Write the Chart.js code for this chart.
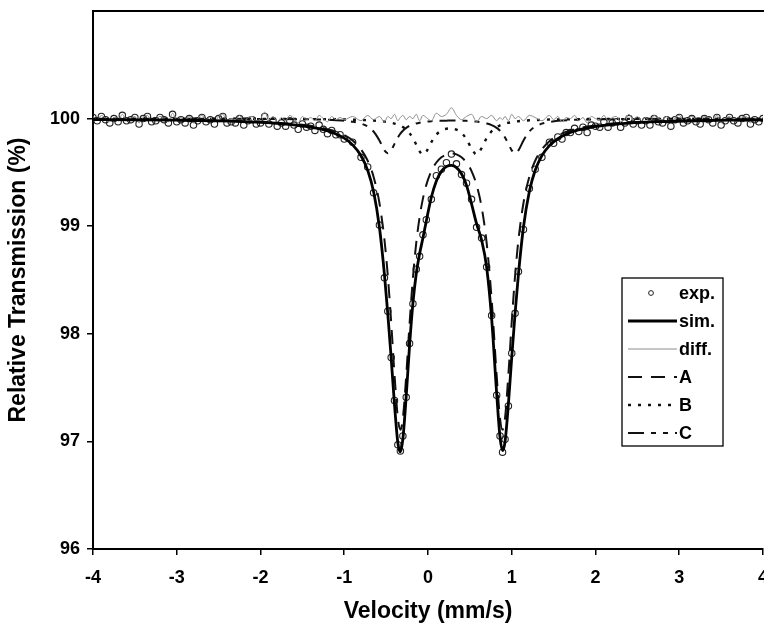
<!DOCTYPE html>
<html>
<head>
<meta charset="utf-8">
<title>Mossbauer spectrum</title>
<script src="https://cdn.jsdelivr.net/npm/chart.js@4.4.1/dist/chart.umd.min.js"></script>
<style>
    html, body { margin: 0; padding: 0; background: #fff; overflow: hidden; }
    #wrap { width: 780px; height: 626px; }
</style>
</head>
<body>
<div id="wrap"><canvas id="mossChart"></canvas></div>
<script>
// ── Data ────────────────────────────────────────────────────────
const xTickValues = [-4, -3, -2, -1, 0, 1, 2, 3, 4];
const yTickValues = [96, 97, 98, 99, 100];

// fitted curves: velocity grid (mm/s)
const velocity = [-4, -3.5, -3, -2.5, -2, -1.75, -1.5, -1.3, -1.15, -1.0, -0.9, -0.8, -0.72, -0.65, -0.58, -0.52,
    -0.48, -0.44, -0.40, -0.36, -0.33, -0.30, -0.26, -0.22, -0.18, -0.14, -0.10, -0.06, -0.02, 0.04, 0.10, 0.16,
    0.22, 0.28, 0.34, 0.40, 0.46, 0.52, 0.58, 0.64, 0.70, 0.76, 0.82, 0.86, 0.89, 0.92, 0.96, 1.00, 1.04, 1.08,
    1.14, 1.21, 1.28, 1.36, 1.45, 1.55, 1.7, 1.9, 2.1, 2.4, 2.8, 3.2, 3.6, 4];

const simValues = [99.991, 99.989, 99.985, 99.978, 99.964, 99.952, 99.933, 99.906, 99.873, 99.818, 99.756, 99.655,
    99.519, 99.322, 98.990, 98.551, 98.186, 97.778, 97.341, 96.987, 96.901, 97.023, 97.424, 97.893, 98.284, 98.560,
    98.744, 98.893, 99.049, 99.269, 99.421, 99.510, 99.554, 99.565, 99.545, 99.487, 99.379, 99.208, 99.023, 98.870,
    98.620, 98.142, 97.447, 97.039, 96.914, 96.997, 97.348, 97.784, 98.191, 98.555, 98.993, 99.323, 99.520, 99.656,
    99.749, 99.813, 99.871, 99.913, 99.937, 99.958, 99.972, 99.980, 99.985, 99.988];

const compA = [99.993, 99.990, 99.987, 99.981, 99.970, 99.959, 99.943, 99.920, 99.892, 99.846, 99.796, 99.714,
    99.608, 99.460, 99.216, 98.874, 98.541, 98.111, 97.622, 97.219, 97.108, 97.215, 97.612, 98.096, 98.520, 98.847,
    99.086, 99.259, 99.384, 99.512, 99.592, 99.640, 99.667, 99.675, 99.667, 99.640, 99.592, 99.512, 99.384, 99.179,
    98.847, 98.320, 97.612, 97.215, 97.108, 97.219, 97.622, 98.111, 98.541, 98.874, 99.216, 99.460, 99.608, 99.714,
    99.789, 99.842, 99.890, 99.926, 99.946, 99.964, 99.976, 99.983, 99.987, 99.990];

const compB = [99.999, 99.999, 99.999, 99.999, 99.998, 99.997, 99.996, 99.995, 99.994, 99.992, 99.990, 99.988,
    99.985, 99.982, 99.977, 99.972, 99.967, 99.961, 99.954, 99.943, 99.933, 99.921, 99.897, 99.865, 99.818, 99.758,
    99.696, 99.667, 99.693, 99.781, 99.851, 99.889, 99.906, 99.909, 99.897, 99.867, 99.808, 99.721, 99.667, 99.726,
    99.818, 99.882, 99.921, 99.937, 99.946, 99.954, 99.961, 99.967, 99.972, 99.976, 99.980, 99.984, 99.986, 99.989,
    99.991, 99.992, 99.994, 99.996, 99.997, 99.997, 99.998, 99.999, 99.999, 99.999];

const compC = [99.999, 99.999, 99.999, 99.998, 99.997, 99.996, 99.994, 99.991, 99.987, 99.980, 99.971, 99.953,
    99.926, 99.880, 99.797, 99.705, 99.678, 99.705, 99.765, 99.824, 99.860, 99.887, 99.914, 99.933, 99.946, 99.955,
    99.962, 99.968, 99.972, 99.976, 99.979, 99.980, 99.981, 99.982, 99.981, 99.980, 99.979, 99.976, 99.972, 99.965,
    99.955, 99.940, 99.914, 99.887, 99.860, 99.824, 99.765, 99.705, 99.678, 99.705, 99.797, 99.880, 99.926, 99.953,
    99.969, 99.979, 99.987, 99.992, 99.994, 99.996, 99.998, 99.998, 99.999, 99.999];

// measured spectrum and residual
const expVelocity = [-4.00, -3.95, -3.90, -3.85, -3.80, -3.75, -3.70, -3.65, -3.60, -3.55, -3.50, -3.45, -3.40,
    -3.35, -3.30, -3.25, -3.20, -3.15, -3.10, -3.05, -3.00, -2.95, -2.90, -2.85, -2.80, -2.75, -2.70, -2.65, -2.60,
    -2.55, -2.50, -2.45, -2.40, -2.35, -2.30, -2.25, -2.20, -2.15, -2.10, -2.05, -2.00, -1.95, -1.90, -1.85, -1.80,
    -1.75, -1.70, -1.65, -1.60, -1.55, -1.50, -1.45, -1.40, -1.35, -1.30, -1.25, -1.20, -1.15, -1.10, -1.05,
    -1.0, -0.9, -0.8, -0.72, -0.65, -0.58, -0.52, -0.48, -0.44, -0.40, -0.36, -0.33, -0.30, -0.26, -0.22, -0.18,
    -0.14, -0.10, -0.06, -0.02, 0.04, 0.10, 0.16, 0.22, 0.28, 0.34, 0.40, 0.46, 0.52, 0.58, 0.64, 0.70, 0.76, 0.82,
    0.86, 0.89, 0.92, 0.96, 1.00, 1.04, 1.08, 1.14, 1.21, 1.28, 1.36, 1.45,
    1.50, 1.55, 1.60, 1.65, 1.70, 1.75, 1.80, 1.85, 1.90, 1.95, 2.00, 2.05, 2.10, 2.15, 2.20, 2.25, 2.30, 2.35,
    2.40, 2.45, 2.50, 2.55, 2.60, 2.65, 2.70, 2.75, 2.80, 2.85, 2.90, 2.95, 3.00, 3.05, 3.10, 3.15, 3.20, 3.25,
    3.30, 3.35, 3.40, 3.45, 3.50, 3.55, 3.60, 3.65, 3.70, 3.75, 3.80, 3.85, 3.90, 3.95, 4.00];

const expValues = [100.01, 99.98, 100.02, 99.99, 99.96, 100.00, 99.97, 100.03, 99.98, 99.99,
    100.01, 99.95, 100.00, 100.02, 99.97, 99.98, 100.01, 99.99, 99.96, 100.04,
    99.97, 99.99, 99.96, 100.00, 99.94, 99.98, 100.01, 99.97, 99.99, 99.95,
    100.00, 100.02, 99.96, 99.97, 99.96, 100.00, 99.94, 99.98, 99.99, 99.95,
    99.96, 100.02, 99.95, 99.98, 99.93, 99.96, 99.93, 99.98, 99.94, 99.90,
    99.95, 99.92, 99.93, 99.89, 99.94, 99.90, 99.86, 99.89, 99.85, 99.85,
    99.81, 99.78, 99.64, 99.55, 99.31, 99.01, 98.52, 98.21, 97.78, 97.38,
    96.97, 96.91, 97.05, 97.41, 97.91, 98.28, 98.60, 98.72, 98.92, 99.06,
    99.25, 99.47, 99.53, 99.59, 99.67, 99.58, 99.48, 99.40, 99.25, 98.99,
    98.89, 98.62, 98.17, 97.43, 97.05, 96.90, 97.02, 97.33, 97.82, 98.19,
    98.58, 98.97, 99.35, 99.53, 99.64, 99.78,
    99.77, 99.83, 99.81, 99.87, 99.87, 99.91, 99.88, 99.92, 99.87, 99.94,
    99.93, 99.92, 99.97, 99.92, 99.96, 99.97, 99.92, 99.96, 100.00, 99.95,
    99.98, 99.94, 99.98, 99.94, 100.00, 99.97, 99.96, 99.99, 99.93, 99.99,
    100.01, 99.96, 99.98, 100.00, 99.97, 99.95, 100.00, 99.99, 99.96, 100.01,
    99.94, 99.98, 100.01, 99.98, 99.96, 100.00, 100.01, 99.95, 99.99, 99.97, 100.00];

const diffValues = [100.02, 99.99, 100.03, 100.00, 99.97, 100.01, 99.98, 100.04, 99.99, 100.00,
    100.02, 99.96, 100.01, 100.03, 99.98, 99.99, 100.02, 100.00, 99.97, 100.05,
    99.99, 100.01, 99.98, 100.02, 99.96, 100.00, 100.03, 99.99, 100.01, 99.97,
    100.02, 100.04, 99.98, 100.00, 99.99, 100.03, 99.97, 100.01, 100.02, 99.98,
    100.00, 100.06, 99.99, 100.02, 99.97, 100.01, 99.98, 100.03, 100.00, 99.96,
    100.02, 99.99, 100.01, 99.98, 100.03, 100.00, 99.97, 100.02, 99.99, 100.01,
    99.99, 100.02, 99.98, 100.03, 99.99, 100.02, 99.97, 100.02, 100.00, 100.04,
    99.98, 100.01, 100.03, 99.99, 100.02, 100.00, 100.04, 99.98, 100.03, 100.01,
    99.98, 100.05, 100.02, 100.04, 100.10, 100.03, 99.99, 100.02, 100.04, 99.97,
    100.02, 100.00, 100.03, 99.98, 100.01, 99.99, 100.02, 99.98, 100.04, 100.00,
    100.02, 99.98, 100.03, 100.01, 99.98, 100.03,
    99.99, 100.02, 99.97, 100.01, 100.00, 100.03, 99.98, 100.01, 99.96, 100.02,
    100.00, 99.99, 100.03, 99.98, 100.01, 100.02, 99.97, 100.00, 100.04, 99.99,
    100.02, 99.98, 100.01, 99.97, 100.03, 100.00, 99.99, 100.02, 99.96, 100.01,
    100.03, 99.98, 100.00, 100.02, 99.99, 99.97, 100.02, 100.01, 99.98, 100.03,
    99.96, 100.00, 100.02, 99.99, 99.97, 100.01, 100.02, 99.96, 100.00, 99.98, 100.01];

// ── Helpers ─────────────────────────────────────────────────────
const FONT = "'Liberation Sans', Arial, Helvetica, sans-serif";
const pts = (xs, ys) => xs.map((x, i) => ({ x: x, y: ys[i] }));

const lineSet = (label, xs, ys, color, width, dash) => ({
    label: label,
    data: pts(xs, ys),
    borderColor: color,
    borderWidth: width,
    borderDash: dash,
    pointRadius: 0,
    fill: false,
    cubicInterpolationMode: 'monotone'
});

// ── Legend box drawn inside the plot ────────────────────────────
const boxLegend = {
    id: 'boxLegend',
    afterDraw(chart) {
        const ctx = chart.ctx;
        const area = chart.chartArea;
        const left = area.left + 529, top = area.top + 267, w = 101, h = 168;
        ctx.save();
        ctx.fillStyle = '#fff';
        ctx.fillRect(left, top, w, h);
        ctx.strokeStyle = '#000';
        ctx.lineWidth = 1.3;
        ctx.strokeRect(left, top, w, h);

        ctx.font = "bold 18px " + FONT;
        ctx.textBaseline = 'middle';
        ctx.fillStyle = '#000';
        const order = ['exp.', 'sim.', 'diff.', 'A', 'B', 'C'];
        order.forEach((name, i) => {
            const ds = chart.data.datasets.find(d => d.label === name);
            const y = top + 15 + i * 28;
            if (ds.showLine === false) {
                ctx.beginPath();
                ctx.lineWidth = 1;
                ctx.strokeStyle = ds.borderColor;
                ctx.arc(left + 29, y, 2.4, 0, Math.PI * 2);
                ctx.stroke();
            } else {
                ctx.beginPath();
                ctx.lineWidth = ds.borderWidth;
                ctx.strokeStyle = ds.borderColor;
                ctx.setLineDash(ds.borderDash || []);
                ctx.moveTo(left + 6, y);
                ctx.lineTo(left + 55, y);
                ctx.stroke();
                ctx.setLineDash([]);
            }
            ctx.fillText(name, left + 57, y + 1);
        });
        ctx.restore();
    }
};

// top frame line of the plot
const topFrame = {
    id: 'topFrame',
    afterDraw(chart) {
        const ctx = chart.ctx;
        const area = chart.chartArea;
        ctx.save();
        ctx.strokeStyle = '#000';
        ctx.lineWidth = 2;
        ctx.beginPath();
        ctx.moveTo(area.left - 1, area.top);
        ctx.lineTo(area.right + 2, area.top);
        ctx.stroke();
        ctx.restore();
    }
};

// ── Chart ───────────────────────────────────────────────────────
new Chart(document.getElementById('mossChart'), {
    type: 'line',
    data: {
        datasets: [
            lineSet('sim.', velocity, simValues, '#000', 2.8, []),
            lineSet('diff.', expVelocity, diffValues, '#8c8c8c', 1, []),
            lineSet('A', velocity, compA, '#111', 2, [14, 9]),
            lineSet('B', velocity, compB, '#111', 2.4, [3, 7]),
            lineSet('C', velocity, compC, '#111', 2, [16, 7, 5, 7, 5, 7]),
            {
                label: 'exp.',
                data: pts(expVelocity, expValues),
                showLine: false,
                pointStyle: 'circle',
                pointRadius: 3.2,
                pointBorderWidth: 1.1,
                borderColor: '#222',
                pointBorderColor: '#222',
                pointBackgroundColor: 'rgba(255,255,255,0)',
                backgroundColor: 'rgba(255,255,255,0)'
            }
        ]
    },
    options: {
        responsive: true, maintainAspectRatio: false, animation: false,
        layout: { padding: { top: 11, right: 15, left: 0, bottom: 0 } },
        plugins: { legend: { display: false }, tooltip: { enabled: false } },
        scales: {
            x: {
                type: 'linear', min: -4, max: 4,
                afterBuildTicks: s => { s.ticks = xTickValues.map(v => ({ value: v })); },
                afterFit: s => { s.height = 77; },
                border: { display: true, color: '#000', width: 2 },
                grid: { display: true, drawOnChartArea: false, drawTicks: true, tickLength: 6, color: '#000', lineWidth: 1.5 },
                ticks: { color: '#000', padding: 12, maxRotation: 0, font: { family: FONT, size: 18, weight: 'bold' } },
                title: {
                    display: true, text: 'Velocity (mm/s)', color: '#000',
                    padding: { top: 0, bottom: 1 },
                    font: { family: FONT, size: 23, weight: 'bold' }
                }
            },
            y: {
                type: 'linear', min: 96, max: 101,
                afterBuildTicks: s => { s.ticks = yTickValues.map(v => ({ value: v })); },
                afterFit: s => { s.width = 93; s.paddingTop = 0; s.paddingBottom = 0; },
                border: { display: true, color: '#000', width: 2 },
                grid: { display: true, drawOnChartArea: false, drawTicks: true, tickLength: 6, color: '#000', lineWidth: 1.5 },
                ticks: { color: '#000', padding: 7, font: { family: FONT, size: 18, weight: 'bold' } },
                title: {
                    display: true, text: 'Relative Transmission (%)', color: '#000',
                    padding: { top: 5, bottom: 0 },
                    font: { family: FONT, size: 23, weight: 'bold' }
                }
            }
        }
    },
    plugins: [topFrame, boxLegend]
});
</script>
</body>
</html>
